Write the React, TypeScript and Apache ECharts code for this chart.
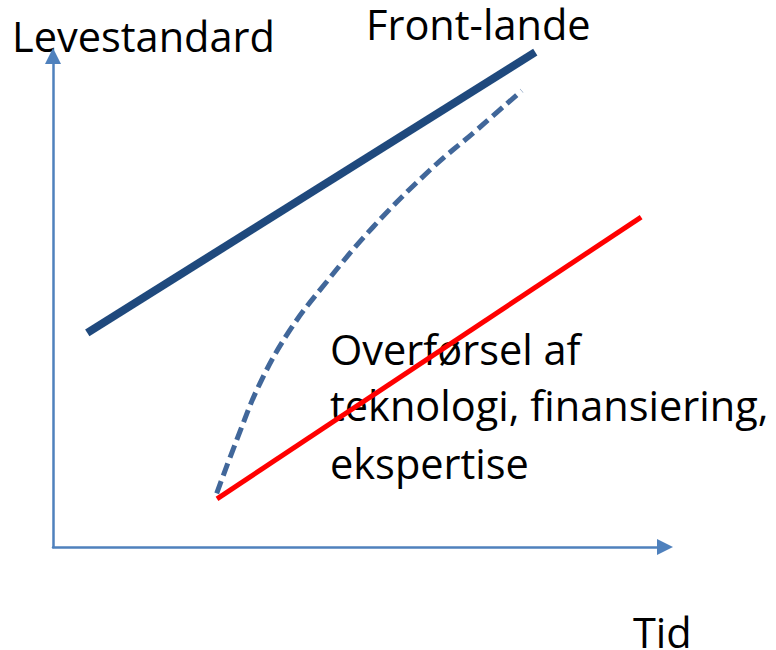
import React, { useEffect, useRef } from "react";
import * as echarts from "echarts";

// Frontier countries (solid dark blue)
const frontX = [5.6, 78.8];
const frontY = [43.6, 100.8];

// Catch-up path (dashed curve)
const catchX = [26.75, 30.02, 33.82, 38.73, 44.72, 52.34, 61.6, 69.23, 76.58];
const catchY = [10.94, 21.79, 33.34, 44.2, 54.03, 65.23, 76.78, 84.93, 92.93];

// Follower trend (red)
const followX = [26.8, 96.1];
const followY = [9.8, 67.2];

const yTitle = "Levestandard";
const xTitle = "Tid";
const frontLabel = "Front-lande";
const noteLines = ["Overførsel af", "teknologi, finansiering,", "ekspertise"];

const FONT = "Open Sans";

function pairs(xs: number[], ys: number[]) {
  return xs.map((x, i) => [x, ys[i]]);
}

export default function App() {
  const ref = useRef<HTMLDivElement>(null);
  useEffect(() => {
    document.body.style.margin = "0";
    if (!ref.current) return;
    const chart = echarts.init(ref.current, null, { renderer: "svg" });
    const axisColor = "#4F81BD";
    const textStyle = (text: string, x: number, y: number) => ({
      type: "text",
      x,
      y,
      z: 0,
      style: {
        text,
        fontSize: 41.5,
        lineHeight: 34,
        fontFamily: FONT,
        fill: "#000000",
        align: "left",
        verticalAlign: "middle",
      },
    });
    chart.setOption({
      animation: false,
      grid: { left: 53, right: 111, top: 56, bottom: 103 },
      xAxis: {
        type: "value",
        min: 0,
        max: 100,
        splitLine: { show: false },
        axisTick: { show: false },
        axisLabel: { show: false },
        axisLine: {
          show: true,
          onZero: false,
          symbol: ["none", "triangle"],
          symbolSize: [16, 16],
          lineStyle: { color: axisColor, width: 2.5 },
        },
      },
      yAxis: {
        type: "value",
        min: 0,
        max: 100,
        splitLine: { show: false },
        axisTick: { show: false },
        axisLabel: { show: false },
        axisLine: {
          show: true,
          onZero: false,
          symbol: ["none", "triangle"],
          symbolSize: [16, 16],
          lineStyle: { color: axisColor, width: 2.5 },
        },
      },
      series: [
        {
          type: "line",
          data: pairs(frontX, frontY),
          showSymbol: false,
          clip: false,
          z: 5,
          lineStyle: { color: "#1F497D", width: 8, cap: "butt" },
        },
        {
          type: "line",
          data: pairs(catchX, catchY),
          showSymbol: false,
          smooth: 0.4,
          clip: false,
          z: 5,
          lineStyle: { color: "#41679A", width: 5, type: [13, 6], cap: "butt" },
        },
        {
          type: "line",
          data: pairs(followX, followY),
          showSymbol: false,
          clip: false,
          z: 6,
          lineStyle: { color: "#FF0000", width: 5, cap: "butt" },
        },
      ],
      graphic: [
        textStyle(yTitle, 12, 36),
        textStyle(frontLabel, 366, 24),
        textStyle(noteLines[0], 330, 349),
        textStyle(noteLines[1], 330, 405),
        textStyle(noteLines[2], 330, 463),
        textStyle(xTitle, 633, 632),
      ],
    });
    return () => chart.dispose();
  }, []);
  return <div ref={ref} style={{ width: 776, height: 650 }} />;
}
